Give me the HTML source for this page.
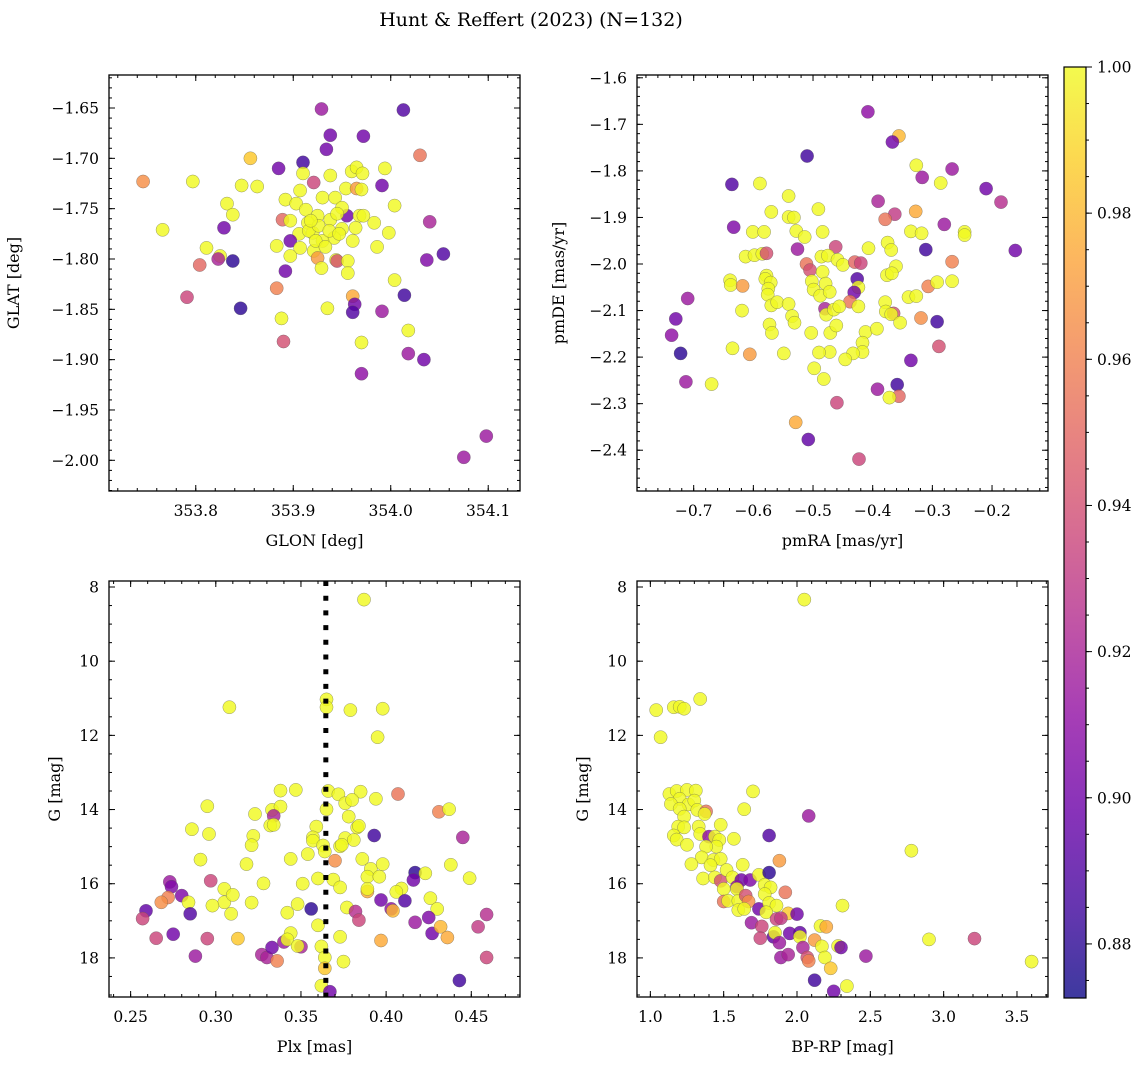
<!DOCTYPE html>
<html><head><meta charset="utf-8"><style>
html,body{margin:0;padding:0;background:#fff;}
svg text{font-family:"DejaVu Serif","Liberation Serif",serif;fill:#000;}
</style></head><body>
<svg id="fig" width="1148" height="1067" viewBox="0 0 1148 1067" xmlns="http://www.w3.org/2000/svg">
<text x="531" y="26" font-size="19" text-anchor="middle">Hunt &amp; Reffert (2023) (N=132)</text>
</svg>
<script>
// ---- Panel 1: GLON / GLAT ----
const p1Glon=[353.929,354.013,353.938,353.972,353.934,354.030,353.856,353.910,353.885,353.994,353.746,353.797,353.921,353.847,353.863,353.910,353.938,353.960,353.965,353.971,353.991,353.907,353.954,353.965,353.970,353.832,353.838,353.892,353.903,353.930,353.943,354.004,353.955,353.968,353.972,354.040,353.889,353.897,353.913,353.925,353.938,353.950,353.915,353.829,353.766,353.983,353.998,353.964,353.950,353.920,353.906,353.897,353.942,353.961,353.930,353.883,353.907,353.921,353.986,353.811,353.825,353.823,353.838,353.897,353.925,353.944,353.945,353.956,354.054,354.037,353.804,353.892,353.929,353.956,354.004,353.883,354.014,353.791,353.961,353.963,353.961,353.846,353.935,353.991,353.888,354.018,353.890,353.970,354.018,354.034,353.970,354.098,354.075,353.916,353.926,353.937,353.947,353.923,353.933,353.945,353.918];
const p1Glat=[-1.651,-1.652,-1.677,-1.678,-1.691,-1.697,-1.700,-1.704,-1.710,-1.710,-1.723,-1.723,-1.724,-1.727,-1.728,-1.715,-1.717,-1.713,-1.709,-1.715,-1.727,-1.732,-1.730,-1.730,-1.731,-1.745,-1.756,-1.741,-1.745,-1.739,-1.739,-1.747,-1.757,-1.757,-1.757,-1.763,-1.761,-1.762,-1.751,-1.757,-1.761,-1.749,-1.764,-1.769,-1.771,-1.764,-1.774,-1.769,-1.770,-1.774,-1.775,-1.782,-1.779,-1.782,-1.782,-1.787,-1.789,-1.792,-1.788,-1.789,-1.797,-1.800,-1.802,-1.797,-1.799,-1.801,-1.802,-1.802,-1.795,-1.801,-1.806,-1.812,-1.809,-1.814,-1.821,-1.829,-1.836,-1.838,-1.837,-1.845,-1.853,-1.849,-1.849,-1.852,-1.859,-1.871,-1.882,-1.883,-1.894,-1.900,-1.914,-1.976,-1.997,-1.772,-1.767,-1.772,-1.775,-1.782,-1.788,-1.755,-1.762];
const p1Prob=[0.915,0.89,0.90,0.90,0.90,0.955,0.985,0.885,0.90,1, 0.965,1,0.935,1,1,1,1,1,1,1, 0.90,1,1,0.97,1,1,1,1,1,1, 1,1,0.90,1,1,0.92,0.95,1,1,1, 1,1,1,0.90,1,1,1,1,1,1, 1,0.90,1,1,1,1,1,1,1,1, 1,0.92,0.88,1,0.97,1,0.94,1,0.89,0.905, 0.95,0.90,1,1,1,0.96,0.885,0.935,0.975,0.90, 0.89,0.88,1,0.915,1,1,0.94,1,0.915,0.90, 0.91,0.915,0.915,1,1,1,1,1,1,1,1];
// ---- Panel 2: pmRA / pmDE ----
const p2Pmra=[-0.408,-0.356,-0.367,-0.510,-0.327,-0.267,-0.317,-0.286,-0.636,-0.589,-0.210,-0.541,-0.391,-0.185,-0.491,-0.570,-0.328,-0.363,-0.379,-0.541,-0.532,-0.633,-0.280,-0.601,-0.582,-0.528,-0.514,-0.484,-0.336,-0.318,-0.246,-0.246,-0.462,-0.526,-0.407,-0.375,-0.369,-0.311,-0.161,-0.613,-0.598,-0.585,-0.578,-0.486,-0.475,-0.459,-0.450,-0.511,-0.505,-0.430,-0.420,-0.267,-0.484,-0.361,-0.376,-0.368,-0.639,-0.638,-0.618,-0.578,-0.580,-0.571,-0.575,-0.576,-0.570,-0.560,-0.541,-0.502,-0.479,-0.499,-0.488,-0.472,-0.426,-0.424,-0.431,-0.438,-0.424,-0.480,-0.478,-0.465,-0.456,-0.379,-0.378,-0.365,-0.369,-0.354,-0.340,-0.327,-0.307,-0.292,-0.267,-0.319,-0.292,-0.619,-0.573,-0.569,-0.535,-0.531,-0.503,-0.471,-0.461,-0.412,-0.393,-0.417,-0.417,-0.433,-0.446,-0.472,-0.490,-0.549,-0.606,-0.635,-0.710,-0.730,-0.737,-0.722,-0.713,-0.670,-0.498,-0.482,-0.336,-0.289,-0.359,-0.392,-0.356,-0.372,-0.460,-0.529,-0.508,-0.423];
const p2Pmde=[-1.673,-1.725,-1.738,-1.768,-1.788,-1.796,-1.814,-1.826,-1.829,-1.827,-1.838,-1.854,-1.865,-1.867,-1.882,-1.888,-1.887,-1.893,-1.904,-1.899,-1.900,-1.921,-1.915,-1.931,-1.931,-1.929,-1.942,-1.931,-1.930,-1.934,-1.931,-1.938,-1.963,-1.968,-1.966,-1.954,-1.970,-1.969,-1.971,-1.984,-1.981,-1.978,-1.977,-1.984,-1.982,-1.991,-2.002,-2.000,-2.013,-1.996,-1.998,-1.995,-2.017,-2.005,-2.024,-2.020,-2.035,-2.045,-2.047,-2.025,-2.032,-2.040,-2.053,-2.066,-2.089,-2.082,-2.086,-2.037,-2.042,-2.055,-2.068,-2.060,-2.032,-2.050,-2.061,-2.081,-2.091,-2.096,-2.109,-2.098,-2.091,-2.082,-2.102,-2.106,-2.108,-2.126,-2.071,-2.069,-2.048,-2.039,-2.037,-2.116,-2.124,-2.100,-2.130,-2.148,-2.112,-2.126,-2.148,-2.148,-2.132,-2.146,-2.139,-2.169,-2.189,-2.192,-2.205,-2.189,-2.190,-2.192,-2.194,-2.181,-2.074,-2.118,-2.153,-2.192,-2.253,-2.258,-2.224,-2.247,-2.207,-2.177,-2.259,-2.269,-2.284,-2.287,-2.298,-2.340,-2.377,-2.419];
const p2Prob=[0.91,0.98,0.90,0.885,1,0.915,0.915,1,0.89,1, 0.90,1,0.92,0.925,1,1,0.975,0.93,0.955,1, 1,0.905,0.915,1,1,1,1,1,1,1, 1,1,0.935,0.915,1,1,1,0.885,0.90,1, 1,1,0.94,1,1,1,1,0.955,0.94,0.95, 0.935,0.96,1,1,1,1,1,1,0.97,1, 1,1,1,1,1,1,1,1,1,1, 1,1,0.89,1,0.90,0.955,1,0.92,1,1, 1,1,1,0.94,1,1,1,1,0.96,1, 1,0.965,0.885,1,1,1,1,1,1,1, 1,1,1,1,1,1,1,1,1,1, 0.97,1,0.915,0.90,0.91,0.88,0.915,1,1,1, 0.90,0.94,0.885,0.915,0.95,1,0.935,0.975,0.895,0.935];
// ---- Panel 3: Plx / G ----
const p3Plx=[0.387,0.308,0.365,0.365,0.379,0.398,0.395,0.338,0.347,0.366,0.372,0.385,0.394,0.407,0.376,0.380,0.295,0.323,0.333,0.338,0.334,0.332,0.334,0.365,0.378,0.431,0.437,0.286,0.296,0.322,0.321,0.359,0.357,0.357,0.376,0.381,0.383,0.384,0.373,0.374,0.393,0.445,0.291,0.318,0.344,0.354,0.363,0.364,0.370,0.386,0.391,0.398,0.389,0.396,0.438,0.417,0.416,0.423,0.449,0.273,0.274,0.297,0.328,0.351,0.360,0.369,0.373,0.409,0.406,0.389,0.389,0.272,0.268,0.280,0.284,0.305,0.305,0.310,0.321,0.298,0.348,0.342,0.309,0.285,0.259,0.257,0.356,0.377,0.382,0.384,0.397,0.403,0.404,0.411,0.426,0.430,0.417,0.425,0.427,0.432,0.436,0.459,0.454,0.459,0.443,0.265,0.275,0.295,0.313,0.288,0.327,0.330,0.333,0.336,0.340,0.344,0.342,0.350,0.348,0.360,0.373,0.397,0.375,0.362,0.364,0.364,0.362,0.367];
const p3G=[8.34,11.24,11.03,11.24,11.32,11.28,12.05,13.49,13.47,13.50,13.59,13.52,13.71,13.58,13.83,13.74,13.91,14.12,14.01,13.92,14.17,14.43,14.41,13.99,14.19,14.06,13.99,14.53,14.66,14.71,14.96,14.46,14.75,14.84,14.77,14.82,14.48,14.44,14.99,14.95,14.70,14.75,15.35,15.47,15.33,15.20,14.97,15.13,15.38,15.33,15.60,15.47,15.81,15.81,15.49,15.70,15.90,15.72,15.85,15.95,16.08,15.92,15.99,16.00,15.86,15.89,16.10,16.13,16.22,16.21,16.14,16.37,16.50,16.32,16.50,16.14,16.50,16.30,16.51,16.59,16.55,16.78,16.81,16.81,16.73,16.94,16.68,16.64,16.75,16.98,16.44,16.68,16.73,16.46,16.39,16.68,17.04,16.91,17.34,17.16,17.45,16.83,17.16,17.99,18.61,17.47,17.36,17.48,17.48,17.95,17.91,17.99,17.72,18.08,17.57,17.33,17.50,17.70,17.68,17.12,17.43,17.53,18.10,17.69,17.99,18.28,18.75,18.91];
const p3Prob=[1,1,1,1,1,1,1,1,1,1, 1,1,1,0.955,1,1,1,1,1,1, 0.92,1,1,1,1,0.96,1,1,1,1, 1,1,1,1,1,1,1,1,1,1, 0.885,0.92,1,1,1,1,1,1,0.965,1, 1,1,1,1,1,0.88,0.90,1,1,0.915, 0.905,0.935,1,1,1,1,1,1,1,0.975, 1,0.96,0.965,0.905,1,1,1,1,1,1, 1,1,1,0.89,0.895,0.935,0.88,1,0.925,0.935, 0.90,0.91,0.98,0.89,1,1,0.915,0.905,0.90,0.98, 0.975,0.925,0.93,0.935,0.885,0.935,0.90,0.935,0.985,0.915, 0.92,0.92,0.90,0.96,0.915,1,1,0.92,1,1, 1,0.975,1,1,1,0.985,1,0.90];
const p3Cut=0.3646;
// ---- Panel 4: BP-RP / G ----
const p4BpRp=[2.05,1.04,1.16,1.20,1.23,1.34,1.07,1.13,1.18,1.25,1.31,1.20,1.14,1.26,1.30,1.20,1.32,1.38,1.37,1.23,1.64,1.70,1.19,1.23,1.33,1.34,1.48,2.08,1.16,1.18,1.25,1.40,1.44,1.47,1.57,1.45,1.38,1.81,1.35,1.43,1.48,1.41,1.28,1.63,1.88,2.78,1.36,1.44,1.48,1.52,1.56,1.62,1.68,1.74,1.81,1.50,1.59,1.59,1.78,1.82,1.78,1.92,1.50,1.53,1.60,1.65,1.67,1.60,1.64,1.74,1.81,1.86,1.79,2.31,1.94,2.00,1.86,1.89,1.69,1.76,1.75,1.84,1.85,1.88,1.95,2.02,2.02,2.04,2.07,2.08,2.12,2.16,2.20,2.17,1.89,1.94,2.19,2.23,2.28,2.30,2.47,2.12,2.25,2.34,2.90,3.21,3.60];
const p4G=[8.34,11.32,11.24,11.23,11.28,11.02,12.05,13.58,13.50,13.47,13.49,13.71,13.85,13.86,13.76,13.98,14.01,14.05,14.12,14.19,13.99,13.51,14.46,14.48,14.46,14.66,14.41,14.17,14.70,14.81,14.95,14.73,14.73,14.82,14.79,15.00,15.00,14.70,15.29,15.36,15.33,15.50,15.47,15.49,15.38,15.11,15.86,15.83,15.92,15.63,15.83,15.90,15.90,15.76,15.70,16.14,16.08,16.14,16.03,16.10,16.28,16.23,16.48,16.46,16.46,16.32,16.48,16.71,16.68,16.68,16.52,16.59,16.77,16.59,16.80,16.82,16.95,16.93,17.05,17.15,17.47,17.43,17.32,17.59,17.34,17.32,17.43,17.72,17.99,18.08,17.52,17.14,17.16,17.69,17.99,17.91,17.99,18.28,17.68,17.72,17.95,18.60,18.90,18.76,17.50,17.48,18.10];
const p4Prob=[1,1,1,1,1,1,1,1,1,1, 1,1,1,1,1,1,1,0.955,1,1, 1,1,1,1,1,1,1,0.915,1,1, 1,0.91,1,1,1,1,1,0.89,1,1, 1,1,1,1,0.97,1,1,1,0.94,1, 1,0.90,0.905,1,0.88,1,0.91,1,1,1, 1,0.955,0.955,1,1,0.94,0.965,1,1,0.90, 1,1,1,1,0.985,0.90,0.935,0.93,0.915,0.935, 0.935,0.895,1,0.915,0.90,0.895,1,0.92,0.94,0.96, 0.97,1,0.975,1,0.915,0.92,1,0.985,1,0.90, 0.915,0.885,0.90,1,1,0.935,1];
// colour scale
const cbTicks=[1.00,0.98,0.96,0.94,0.92,0.90,0.88];
const vMin=0.8726, vMax=1.0;

const NS='http://www.w3.org/2000/svg';
const svg=document.getElementById('fig');
function mk(tag,attrs,parent){const e=document.createElementNS(NS,tag);for(const k in attrs)e.setAttribute(k,attrs[k]);(parent||svg).appendChild(e);return e;}
const plasma=[[13,8,135],[65,4,157],[106,0,168],[143,13,164],[177,42,144],[204,71,120],[225,100,98],[242,132,75],[252,166,54],[252,206,37],[240,249,33]];
function cmap(v){let t=(v-vMin)/(vMax-vMin);t=Math.max(0,Math.min(1,t))*10;const i=Math.min(9,Math.floor(t));const f=t-i;const a=plasma[i],b=plasma[i+1];return 'rgb('+[0,1,2].map(k=>Math.round(a[k]+(b[k]-a[k])*f)).join(',')+')';}
function fmtMinus(s){return s.replace('-','\u2212');}

function panel(cfg){
  const {name,box,xlim,ylim,xMaj,xMin,yMaj,yMin,xDec,yDec,xlab,ylab,xs,ys,ps}=cfg;
  const g=mk('g',{});
  
  
  const sx=v=>box.x0+(v-xlim[0])/(xlim[1]-xlim[0])*(box.x1-box.x0);
  const sy=v=>box.y0+(v-ylim[0])/(ylim[1]-ylim[0])*(box.y1-box.y0);
  const clipId='clip-'+name;
  const cp=mk('clipPath',{id:clipId},g);mk('rect',{x:box.x0,y:box.y0,width:box.x1-box.x0,height:box.y1-box.y0},cp);
  const pts=mk('g',{'clip-path':'url(#'+clipId+')'},g);
  
  
  const n=Math.min(xs.length,ys.length,ps.length);
  for(let i=0;i<n;i++){
    const c=mk('circle',{cx:sx(xs[i]).toFixed(1),cy:sy(ys[i]).toFixed(1),r:6.6,fill:cmap(ps[i]),'fill-opacity':0.82,stroke:'#555','stroke-width':0.5,'stroke-opacity':0.6},pts);
    
    
  }
  if(cfg.extra)cfg.extra(pts,sx,sy);
  const tk=mk('g',{stroke:'#000','stroke-width':1},g);
  const lo=Math.min(...xlim),hi=Math.max(...xlim);
  function range(a,b,step){const out=[];const s=Math.ceil(a/step-1e-6);const e=Math.floor(b/step+1e-6);for(let k=s;k<=e;k++)out.push(+(k*step).toFixed(6));return out;}
  range(lo,hi,xMin).forEach(v=>{const x=sx(v);mk('line',{x1:x,x2:x,y1:box.y1,y2:box.y1-3},tk);mk('line',{x1:x,x2:x,y1:box.y0,y2:box.y0+3},tk);});
  range(lo,hi,xMaj).forEach(v=>{const x=sx(v);mk('line',{x1:x,x2:x,y1:box.y1,y2:box.y1-6},tk);mk('line',{x1:x,x2:x,y1:box.y0,y2:box.y0+6},tk);
    const t=mk('text',{x:x,y:box.y1+25,'font-size':15.5,'text-anchor':'middle'},g);t.textContent=fmtMinus(v.toFixed(xDec));
    
    });
  const ylo=Math.min(...ylim),yhi=Math.max(...ylim);
  range(ylo,yhi,yMin).forEach(v=>{const y=sy(v);mk('line',{x1:box.x0,x2:box.x0+3,y1:y,y2:y},tk);mk('line',{x1:box.x1,x2:box.x1-3,y1:y,y2:y},tk);});
  range(ylo,yhi,yMaj).forEach(v=>{const y=sy(v);mk('line',{x1:box.x0,x2:box.x0+6,y1:y,y2:y},tk);mk('line',{x1:box.x1,x2:box.x1-6,y1:y,y2:y},tk);
    const t=mk('text',{x:box.x0-10,y:y+5.5,'font-size':15.5,'text-anchor':'end'},g);t.textContent=fmtMinus(v.toFixed(yDec));
    
    });
  const fr=mk('rect',{x:box.x0,y:box.y0,width:box.x1-box.x0,height:box.y1-box.y0,fill:'none',stroke:'#000','stroke-width':1.3},g);
  
  
  const xl=mk('text',{x:(box.x0+box.x1)/2,y:box.y1+55,'font-size':16,'text-anchor':'middle'},g);xl.textContent=xlab;
  
  
  const cx=cfg.ylabX,cy=(box.y0+box.y1)/2;
  const yl=mk('text',{x:cx,y:cy,'font-size':16,'text-anchor':'middle',transform:'rotate(-90 '+cx+' '+cy+')'},g);yl.textContent=ylab;
  
  
}

panel({name:'glon-glat-panel',box:{x0:109,x1:520,y0:75,y1:491},xlim:[353.711,354.1326],ylim:[-1.6172,-2.0305],xMaj:0.1,xMin:0.02,yMaj:0.05,yMin:0.01,xDec:1,yDec:2,xlab:'GLON [deg]',ylab:'GLAT [deg]',ylabX:19,xs:p1Glon,ys:p1Glat,ps:p1Prob});
panel({name:'pm-panel',box:{x0:637,x1:1048,y0:75,y1:491},xlim:[-0.795,-0.1062],ylim:[-1.594,-2.4876],xMaj:0.1,xMin:0.02,yMaj:0.1,yMin:0.02,xDec:1,yDec:1,xlab:'pmRA [mas/yr]',ylab:'pmDE [mas/yr]',ylabX:564,xs:p2Pmra,ys:p2Pmde,ps:p2Prob});
panel({name:'plx-g-panel',box:{x0:109,x1:520,y0:581,y1:997},xlim:[0.2373,0.4786],ylim:[7.838,19.054],xMaj:0.05,xMin:0.01,yMaj:2,yMin:0.5,xDec:2,yDec:0,xlab:'Plx [mas]',ylab:'G [mag]',ylabX:60,xs:p3Plx,ys:p3G,ps:p3Prob,
  extra:(gp,sx,sy)=>{const x=sx(p3Cut);const l=mk('line',{x1:x,x2:x,y1:581,y2:997,stroke:'#000','stroke-width':5,'stroke-dasharray':'5 9.7'},gp);
    
    }});
panel({name:'cmd-panel',box:{x0:637,x1:1048,y0:581,y1:997},xlim:[0.909,3.7115],ylim:[7.838,19.054],xMaj:0.5,xMin:0.1,yMaj:2,yMin:0.5,xDec:1,yDec:0,xlab:'BP-RP [mag]',ylab:'G [mag]',ylabX:588,xs:p4BpRp,ys:p4G,ps:p4Prob});

// colorbar
(function(){
  const x0=1064,x1=1086,y0=67,y1=998;
  const cb=mk('g',{});
  
  
  const defs=mk('defs',{},cb);
  const lg=mk('linearGradient',{id:'cbgrad',x1:0,y1:1,x2:0,y2:0},defs);
  plasma.forEach((c,i)=>mk('stop',{offset:(i*10)+'%','stop-color':'rgb('+c.join(',')+')'},lg));
  const topY=v=>y1-(v-vMin)/(vMax-vMin)*(y1-y0);
  mk('rect',{x:x0,y:y0,width:x1-x0,height:y1-y0,fill:'url(#cbgrad)','fill-opacity':0.8},cb);
  mk('rect',{x:x0,y:y0,width:x1-x0,height:y1-y0,fill:'none',stroke:'#000','stroke-width':1.2},cb);
  for(let k=Math.ceil(vMin/0.005);k<=Math.floor(vMax/0.005+1e-6);k++){const v=k*0.005;const y=topY(v);mk('line',{x1:x1,x2:x1+3,y1:y,y2:y,stroke:'#000'},cb);}
  cbTicks.forEach(v=>{const y=topY(v);mk('line',{x1:x1,x2:x1+6,y1:y,y2:y,stroke:'#000'},cb);
    const t=mk('text',{x:x1+11,y:y+5.5,'font-size':15.5},cb);t.textContent=v.toFixed(2);
    
    });
})();
</script>
</body></html>
